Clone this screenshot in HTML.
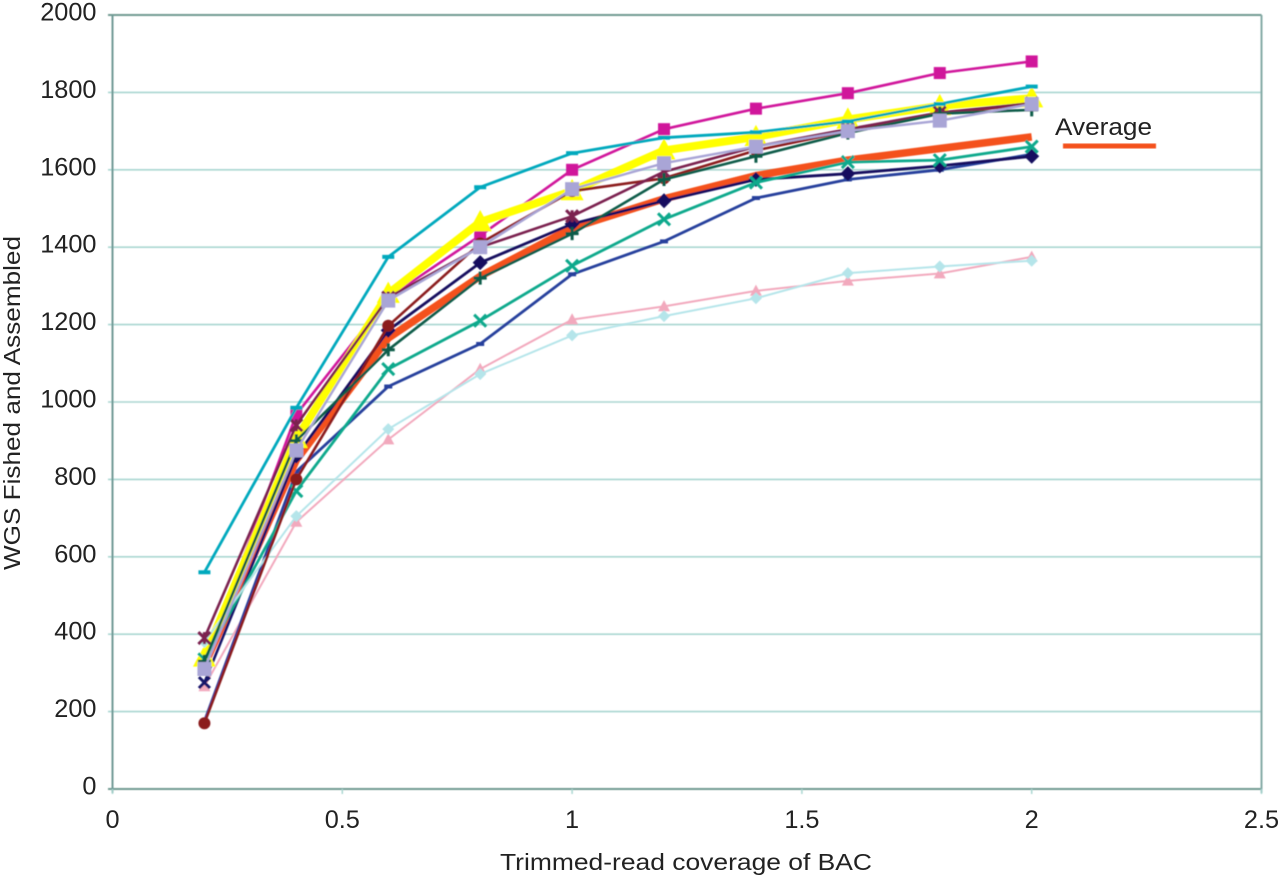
<!DOCTYPE html>
<html lang="en">
<head>
<meta charset="utf-8">
<title>WGS Fished and Assembled vs Trimmed-read coverage of BAC</title>
<style>
html,body{margin:0;padding:0;background:#fff;}
body{width:1280px;height:878px;overflow:hidden;}
svg{display:block;}
text{font-family:"Liberation Sans",sans-serif;fill:#222;}
</style>
</head>
<body>
<svg id="chart" width="1280" height="878" viewBox="0 0 1280 878" xmlns="http://www.w3.org/2000/svg">
  <defs>
    <filter id="soft" x="-5%" y="-5%" width="110%" height="110%"><feGaussianBlur stdDeviation="0.5"/></filter>
  </defs>
  <rect x="0" y="0" width="1280" height="878" fill="#ffffff"/>
  <g id="grid" filter="url(#soft)"></g>
  <g id="ticks"></g>
  <g id="marks" filter="url(#soft)"></g>
  <text x="686" y="870" font-size="23.5" text-anchor="middle" textLength="372" lengthAdjust="spacingAndGlyphs">Trimmed-read coverage of BAC</text>
  <text transform="translate(20,403) rotate(-90)" font-size="23.5" text-anchor="middle" textLength="334" lengthAdjust="spacingAndGlyphs">WGS Fished and Assembled</text>
  <text x="1055" y="135" font-size="24.5" textLength="97" lengthAdjust="spacingAndGlyphs">Average</text>
  <rect x="1063" y="143.5" width="93" height="5" fill="#f4511e" filter="url(#soft)"/>
</svg>
<script>
// Chart data
const coverage = [0.2, 0.4, 0.6, 0.8, 1.0, 1.2, 1.4, 1.6, 1.8, 2.0];
const xTickValues = [0, 0.5, 1, 1.5, 2, 2.5];
const yTickValues = [0, 200, 400, 600, 800, 1000, 1200, 1400, 1600, 1800, 2000];

const lightPinkValues = [265, 690, 903, 1085, 1213, 1247, 1287, 1313, 1332, 1375];
const lightCyanValues = [380, 705, 930, 1072, 1172, 1222, 1268, 1333, 1350, 1365];
const blueValues      = [175, 820, 1040, 1150, 1330, 1415, 1527, 1575, 1600, 1640];
const greenXValues    = [335, 770, 1085, 1210, 1352, 1472, 1567, 1620, 1625, 1660];
const averageValues   = [320, 850, 1165, 1325, 1450, 1525, 1585, 1625, 1655, 1685];
const navyCrossValues = [275, 860];
const navyValues      = [null, 860, 1185, 1360, 1460, 1520, 1575, 1590, 1610, 1635];
const darkGreenValues = [330, 900, 1135, 1320, 1435, 1575, 1635, 1695, 1745, 1755];
const magentaValues   = [325, 968, 1270, 1430, 1600, 1705, 1758, 1798, 1850, 1880];
const yellowValues    = [340, 905, 1280, 1465, 1545, 1650, 1685, 1730, 1765, 1785];
const brownValues     = [170, 800, 1197, 1410, 1545, 1578, 1650, 1700, 1745, 1770];
const maroonValues    = [390, 940, 1270, 1400, 1480, 1595, 1660, 1705, 1748, 1772];
const tealValues      = [560, 985, 1375, 1555, 1643, 1683, 1697, 1725, 1770, 1815];
const lavenderValues  = [310, 875, 1262, 1400, 1550, 1617, 1660, 1700, 1727, 1770];

// Axis functions
const xScale = function (v) { return 112.5 + v * 459.6; };
const yScale = function (v) { return 789 - v * 0.387; };

const NS = 'http://www.w3.org/2000/svg';
const gridLayer = document.getElementById('grid');
const tickLayer = document.getElementById('ticks');
const markLayer = document.getElementById('marks');

function svgEl(tag, attrs, parent) {
  const el = document.createElementNS(NS, tag);
  for (const k in attrs) el.setAttribute(k, attrs[k]);
  parent.appendChild(el);
  return el;
}

// Gridlines and y ticks
yTickValues.forEach(function (v) {
  const isEdge = v === 0 || v === 2000;
  const line = svgEl('line', {
    x1: 108, x2: xScale(2.5), y1: yScale(v), y2: yScale(v),
    stroke: isEdge ? '#6f9a92' : '#a9d6d0', 'stroke-width': isEdge ? 2 : 1.6
  }, gridLayer);
  
  
  const label = svgEl('text', {
    x: 96.5, y: yScale(v) + 5.5, 'font-size': 25.3, 'text-anchor': 'end'
  }, tickLayer);
  label.textContent = String(v);
  
  
});

// Plot frame verticals
const frameLeft = svgEl('line', { x1: xScale(0), x2: xScale(0), y1: yScale(2000), y2: yScale(0) + 4, stroke: '#6f9a96', 'stroke-width': 2 }, gridLayer);


const frameRight = svgEl('line', { x1: xScale(2.5), x2: xScale(2.5), y1: yScale(2000), y2: yScale(0) + 4, stroke: '#84aaa6', 'stroke-width': 2 }, gridLayer);



// X ticks
xTickValues.forEach(function (v) {
  const tick = svgEl('line', { x1: xScale(v), x2: xScale(v), y1: yScale(0), y2: yScale(0) + 5, stroke: '#a9d6d0', 'stroke-width': 1.5 }, gridLayer);
  
  
  const label = svgEl('text', { x: xScale(v), y: 828, 'font-size': 25.3, 'text-anchor': 'middle' }, tickLayer);
  label.textContent = String(v);
  
  
});

// Marker shapes, drawn centred on a data point
function drawMarker(g, type, x, y, size, color) {
  const s = size / 2;
  if (type === 'square') {
    svgEl('rect', { x: x - s, y: y - s, width: size, height: size, fill: color }, g);
  } else if (type === 'dash') {
    svgEl('rect', { x: x - s, y: y - 2, width: size, height: 4, fill: color }, g);
  } else if (type === 'circle') {
    svgEl('circle', { cx: x, cy: y, r: s, fill: color }, g);
  } else if (type === 'diamond') {
    svgEl('polygon', { points: [x, y - s, x + s, y, x, y + s, x - s, y].join(' '), fill: color }, g);
  } else if (type === 'triangle') {
    svgEl('polygon', { points: [x, y - s * 1.05, x + s, y + s * 0.8, x - s, y + s * 0.8].join(' '), fill: color }, g);
  } else if (type === 'plus' || type === 'cross' || type === 'star') {
    const parts = [];
    if (type !== 'cross') parts.push('M' + x + ' ' + (y - s) + 'V' + (y + s));
    if (type === 'plus') parts.push('M' + (x - s) + ' ' + y + 'H' + (x + s));
    if (type !== 'plus') parts.push('M' + (x - s) + ' ' + (y - s) + 'L' + (x + s) + ' ' + (y + s) + 'M' + (x + s) + ' ' + (y - s) + 'L' + (x - s) + ' ' + (y + s));
    svgEl('path', { d: parts.join(''), fill: 'none', stroke: color, 'stroke-width': 3 }, g);
  }
}

function drawSeries(name, values, color, width, marker, size, markerLimit) {
  const g = svgEl('g', {}, markLayer);
  
  
  const pts = [];
  values.forEach(function (v, i) {
    if (v !== null) pts.push([xScale(coverage[i]), yScale(v)]);
  });
  const line = svgEl('polyline', {
    points: pts.map(function (p) { return p[0].toFixed(1) + ',' + p[1].toFixed(1); }).join(' '),
    fill: 'none', stroke: color, 'stroke-width': width, 'stroke-linejoin': 'round'
  }, g);
  
  
  if (marker) {
    const limit = markerLimit || pts.length;
    pts.slice(0, limit).forEach(function (p) {
      drawMarker(g, marker, p[0], p[1], size, color);
    });
  }
}

drawSeries('series-light-pink', lightPinkValues, '#f2a9bd', 2, 'triangle', 12);
drawSeries('series-blue', blueValues, '#26409c', 2.8, 'dash', 8);
drawSeries('series-average', averageValues, '#f4511e', 7.5, null, 0);
drawSeries('series-navy-cross', navyCrossValues, '#17146a', 2.6, 'cross', 11, 1);
drawSeries('series-navy-diamond', navyValues, '#12105f', 2.8, 'diamond', 15);
drawSeries('series-magenta-square', magentaValues, '#d0139b', 2.6, 'square', 12);
drawSeries('series-yellow-triangle', yellowValues, '#ffff00', 8, 'triangle', 23);
drawSeries('series-green-cross', greenXValues, '#0aa98c', 2.8, 'cross', 12);
drawSeries('series-light-cyan', lightCyanValues, '#b5e5ea', 2, 'diamond', 12);
drawSeries('series-brown-circle', brownValues, '#8b1a1f', 2.6, 'circle', 12);
drawSeries('series-maroon-star', maroonValues, '#7b2150', 2.6, 'star', 12);
drawSeries('series-dark-green-plus', darkGreenValues, '#0a5c48', 2.6, 'plus', 13);
drawSeries('series-teal-dash', tealValues, '#00a9bd', 2.8, 'dash', 12);
drawSeries('series-lavender-square', lavenderValues, '#a9a5d6', 2.4, 'square', 14);
</script>
</body>
</html>
